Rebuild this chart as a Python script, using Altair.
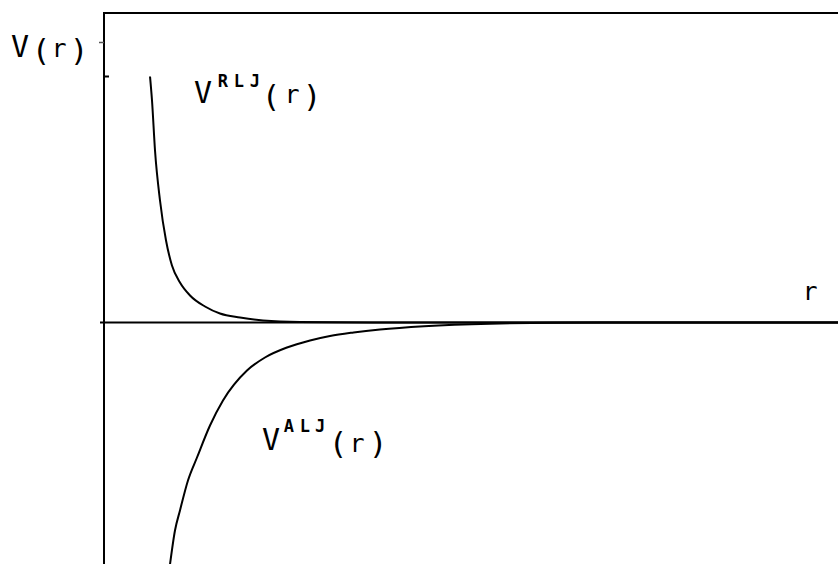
import altair as alt
import pandas as pd

# Repulsive Lennard-Jones branch V^RLJ(r)
rlj_r = [0.627, 0.654, 0.695, 0.763, 0.845, 0.926, 1.035, 1.172, 1.376, 1.580,
         1.853, 2.166, 2.670, 4.03, 10.0]
rlj_v = [2.46, 2.22, 1.72, 1.22, 0.82, 0.57, 0.40, 0.27, 0.16, 0.09,
         0.05, 0.02, 0.005, 0.0, 0.0]

# Attractive Lennard-Jones branch V^ALJ(r)
alj_r = [0.899, 0.967, 1.035, 1.144, 1.267, 1.444, 1.621, 1.948, 2.193, 2.493,
         2.807, 3.079, 3.40, 3.76, 4.36, 5.26, 6.76, 10.0]
alj_v = [-2.42, -2.08, -1.88, -1.58, -1.35, -1.03, -0.78, -0.48, -0.35, -0.25,
         -0.18, -0.135, -0.10, -0.07, -0.037, -0.012, 0.0, 0.0]

# small marks on the V axis
left_ticks = [2.80]
right_ticks = [2.46]

R_DOMAIN = [0, 10]
V_DOMAIN = [-2.415, 3.095]

curves = pd.concat([
    pd.DataFrame({"r": rlj_r, "v": rlj_v, "branch": "RLJ"}),
    pd.DataFrame({"r": alj_r, "v": alj_v, "branch": "ALJ"}),
])

xs = alt.Scale(domain=R_DOMAIN, nice=False, zero=False)
ys = alt.Scale(domain=V_DOMAIN, nice=False, zero=False)
X = lambda f: alt.X(f, scale=xs, axis=None)
Y = lambda f: alt.Y(f, scale=ys, axis=None)

lines = alt.Chart(curves).mark_line(
    color="black", strokeWidth=2, interpolate="monotone", clip=True
).encode(x=X("r:Q"), y=Y("v:Q"), detail="branch:N")

# frame: top border, V axis and the r axis through V = 0
top_line = alt.Chart(pd.DataFrame({"a": [0]})).mark_rule(
    color="black", strokeWidth=2
).encode(x=alt.value(-1), x2=alt.value(734), y=alt.value(0))
v_axis = alt.Chart(pd.DataFrame({"a": [0]})).mark_rule(
    color="black", strokeWidth=2
).encode(x=alt.value(0), y=alt.value(-1), y2=alt.value(551))
r_axis = alt.Chart(pd.DataFrame({"v": [0.0]})).mark_rule(
    color="black", strokeWidth=2
).encode(y=Y("v:Q"), x=alt.value(-4), x2=alt.value(734))

tick_l = alt.Chart(pd.DataFrame({"v": left_ticks})).mark_rule(
    color="#555", strokeWidth=1.5
).encode(y=Y("v:Q"), x=alt.value(-5), x2=alt.value(0))
tick_r = alt.Chart(pd.DataFrame({"v": right_ticks})).mark_rule(
    color="black", strokeWidth=2
).encode(y=Y("v:Q"), x=alt.value(0), x2=alt.value(5))

# typewriter-style labels, one glyph per row
glyphs = pd.DataFrame([
    # V(r)
    ("V", -1.144, 2.655, 30, "normal"),
    ("(", -0.858, 2.62, 31, "normal"),
    ("r", -0.613, 2.655, 25, "normal"),
    (")", -0.341, 2.62, 31, "normal"),
    # V^RLJ(r)
    ("V", 1.349, 2.195, 30, "normal"),
    ("R", 1.621, 2.355, 17, "bold"),
    ("L", 1.839, 2.355, 17, "bold"),
    ("J", 2.057, 2.355, 17, "bold"),
    ("(", 2.275, 2.16, 31, "normal"),
    ("r", 2.561, 2.195, 25, "normal"),
    (")", 2.834, 2.16, 31, "normal"),
    # V^ALJ(r)
    ("V", 2.275, -1.275, 30, "normal"),
    ("A", 2.520, -1.095, 17, "bold"),
    ("L", 2.738, -1.095, 17, "bold"),
    ("J", 2.943, -1.095, 17, "bold"),
    ("(", 3.188, -1.31, 31, "normal"),
    ("r", 3.447, -1.295, 25, "normal"),
    (")", 3.733, -1.31, 31, "normal"),
    # r
    ("r", 9.619, 0.225, 25, "normal"),
], columns=["t", "r", "v", "size", "w"])

def glyph_layer(weight):
    return alt.Chart(glyphs[glyphs["w"] == weight]).mark_text(
        font="DejaVu Sans Mono", fontWeight=weight, color="black",
        align="center", baseline="alphabetic"
    ).encode(x=X("r:Q"), y=Y("v:Q"), text="t:N",
             size=alt.Size("size:Q", scale=None, legend=None))

chart = alt.layer(
    top_line, v_axis, r_axis, tick_l, tick_r, lines,
    glyph_layer("normal"), glyph_layer("bold"),
).properties(
    width=734, height=551,
    padding={"left": 104, "top": 13, "right": 0, "bottom": 0},
    autosize=alt.AutoSizeParams(type="none"),
    background="white",
).configure_view(stroke=None)

chart.save("out.html", embed_options={"renderer": "svg", "actions": False})
